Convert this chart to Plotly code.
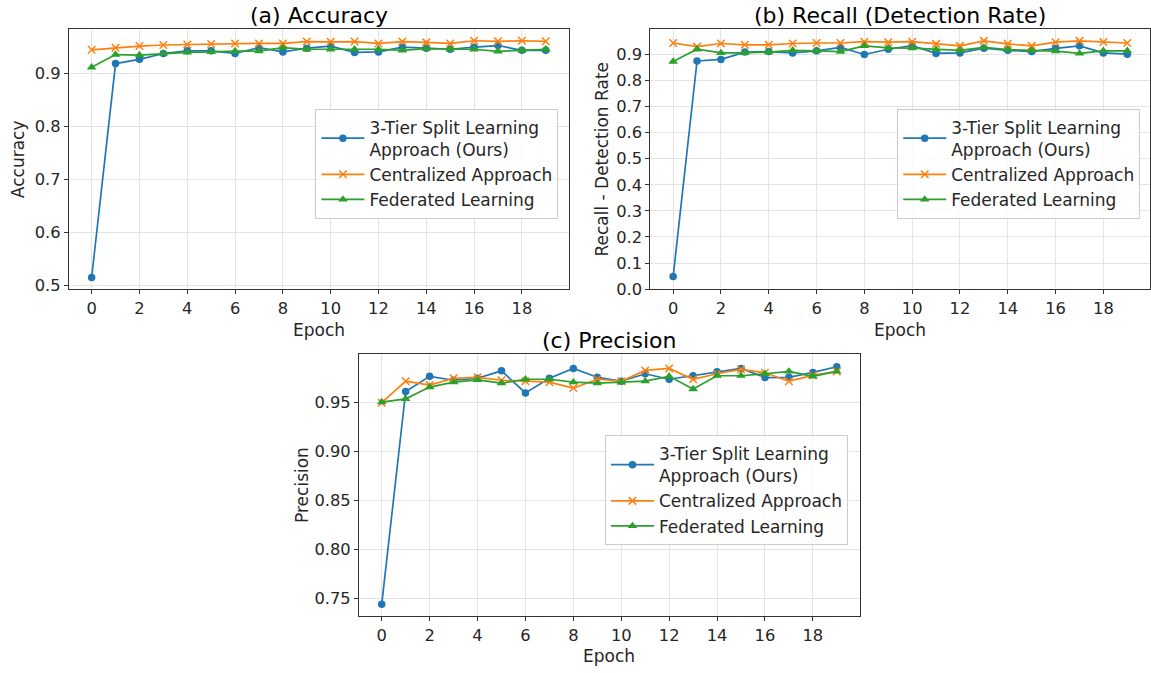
import plotly.graph_objects as go

W, H = 1151, 673

epochs = list(range(20))

acc_ours = [0.515, 0.919, 0.927, 0.938, 0.943, 0.943, 0.938, 0.949, 0.941, 0.948,
            0.952, 0.940, 0.941, 0.950, 0.948, 0.946, 0.950, 0.953, 0.944, 0.944]
acc_central = [0.945, 0.949, 0.952, 0.954, 0.955, 0.956, 0.957, 0.957, 0.957, 0.9605,
               0.960, 0.9605, 0.957, 0.9605, 0.959, 0.957, 0.962, 0.961, 0.962, 0.961]
acc_fl = [0.912, 0.936, 0.935, 0.938, 0.940, 0.941, 0.9425, 0.9425, 0.949, 0.946,
          0.946, 0.946, 0.946, 0.944, 0.947, 0.946, 0.946, 0.942, 0.944, 0.946]

rec_ours = [0.048, 0.875, 0.881, 0.909, 0.911, 0.906, 0.914, 0.927, 0.900, 0.920,
            0.934, 0.904, 0.906, 0.924, 0.916, 0.911, 0.923, 0.933, 0.906, 0.901]
rec_central = [0.944, 0.930, 0.942, 0.937, 0.937, 0.942, 0.944, 0.944, 0.949, 0.947,
               0.949, 0.9405, 0.933, 0.952, 0.9405, 0.933, 0.947, 0.952, 0.948, 0.944]
rec_fl = [0.873, 0.920, 0.906, 0.906, 0.909, 0.916, 0.914, 0.911, 0.933, 0.925,
          0.924, 0.919, 0.916, 0.927, 0.919, 0.916, 0.913, 0.904, 0.914, 0.914]

prec_ours = [0.744, 0.9615, 0.977, 0.973, 0.975, 0.9826, 0.960, 0.975, 0.985, 0.976,
             0.972, 0.9796, 0.974, 0.9776, 0.9816, 0.985, 0.9757, 0.976, 0.981, 0.9868]
prec_central = [0.950, 0.972, 0.968, 0.975, 0.976, 0.973, 0.972, 0.971, 0.965, 0.974,
                0.972, 0.983, 0.985, 0.974, 0.9796, 0.984, 0.9806, 0.972, 0.978, 0.982]
prec_fl = [0.9507, 0.954, 0.966, 0.971, 0.9733, 0.970, 0.974, 0.974, 0.971, 0.970,
           0.971, 0.972, 0.977, 0.964, 0.9776, 0.9776, 0.9796, 0.982, 0.977, 0.982]

series_names = ["3-Tier Split Learning<br>Approach (Ours)", "Centralized Approach", "Federated Learning"]
colors = ["#1f77b4", "#ff7f0e", "#2ca02c"]
symbols = ["circle", "x-thin", "triangle-up"]
sizes = [7.5, 7.5, 8.5]

titles = ["(a) Accuracy", "(b) Recall (Detection Rate)", "(c) Precision"]
ylabels = ["Accuracy", "Recall - Detection Rate", "Precision"]

panels = [
    (acc_ours, acc_central, acc_fl),
    (rec_ours, rec_central, rec_fl),
    (prec_ours, prec_central, prec_fl),
]

# pixel boxes of the axes: left, top, right, bottom
boxes = [(69, 29.3, 569, 293.3), (651, 29.3, 1151, 293.3), (359.3, 359.3, 860.3, 624.3)]
yranges = [[0.4926, 0.9844], [-0.001, 0.998], [0.732, 0.9993]]
ytickvals = [[0.5, 0.6, 0.7, 0.8, 0.9],
             [0.0, 0.1, 0.2, 0.3, 0.4, 0.5, 0.6, 0.7, 0.8, 0.9],
             [0.75, 0.80, 0.85, 0.90, 0.95]]
yformats = [".1f", ".1f", ".2f"]
legend_pos = [(315.7, 110), (898, 110), (605.5, 441)]
ylabel_x = [18, 603, 302]

FONT = "DejaVu Sans"
TXT = "#262626"

fig = go.Figure()
layout = dict(
    width=W, height=H,
    margin=dict(l=0, r=0, t=0, b=0),
    paper_bgcolor="white", plot_bgcolor="white",
    font=dict(family=FONT, color=TXT, size=16),
    showlegend=True,
    annotations=[],
)

for i, data in enumerate(panels):
    sfx = "" if i == 0 else str(i + 1)
    leg = "legend" if i == 0 else "legend" + str(i + 1)
    for k in range(3):
        fig.add_trace(go.Scatter(
            x=epochs, y=data[k], mode="lines+markers",
            name=series_names[k],
            line=dict(color=colors[k], width=1.7),
            marker=dict(symbol=symbols[k], size=sizes[k], color=colors[k],
                        line=dict(color=colors[k], width=1.5 if k == 1 else 0)),
            xaxis="x" + sfx, yaxis="y" + sfx, legend=leg,
            legendgroup=f"g{i}{k}",
        ))
    l, t, r, b = boxes[i]
    axcommon = dict(showline=True, mirror=True, linecolor="#333333", linewidth=1,
                    ticks="outside", ticklen=4, tickcolor="#333333",
                    showgrid=True, gridcolor="#e3e3e3", gridwidth=1, zeroline=False,
                    tickfont=dict(family=FONT, size=16.3, color=TXT))
    layout["xaxis" + sfx] = dict(domain=[l / W, r / W], range=[-0.95, 19.95],
                                 tickmode="array", tickvals=list(range(0, 20, 2)),
                                 anchor="y" + sfx, **axcommon)
    layout["yaxis" + sfx] = dict(domain=[1 - b / H, 1 - t / H], range=yranges[i],
                                 tickmode="array", tickvals=ytickvals[i], tickformat=yformats[i],
                                 anchor="x" + sfx, **axcommon)
    lx, ly = legend_pos[i]
    layout[leg] = dict(x=lx / W, y=1 - ly / H, xanchor="left", yanchor="top",
                       bgcolor="rgba(255,255,255,0.8)", bordercolor="#cccccc", borderwidth=1,
                       font=dict(family=FONT, size=17, color=TXT),
                       itemwidth=43, tracegroupgap=0)
    cx = (l + r) / 2
    layout["annotations"].append(dict(text=titles[i], x=cx / W, y=1 - (t - 14) / H,
                                      xref="paper", yref="paper", showarrow=False,
                                      xanchor="center", yanchor="middle",
                                      font=dict(family=FONT, size=22, color="black")))
    layout["annotations"].append(dict(text="Epoch", x=cx / W, y=1 - (b + 41) / H,
                                      xref="paper", yref="paper", showarrow=False,
                                      xanchor="center", yanchor="middle", borderpad=0,
                                      font=dict(family=FONT, size=17, color=TXT)))
    layout["annotations"].append(dict(text=ylabels[i], x=ylabel_x[i] / W, y=1 - ((t + b) / 2) / H,
                                      xref="paper", yref="paper", showarrow=False, textangle=-90,
                                      xanchor="center", yanchor="middle",
                                      font=dict(family=FONT, size=17, color=TXT)))

fig.update_layout(**layout)
fig.write_html("out.html")
